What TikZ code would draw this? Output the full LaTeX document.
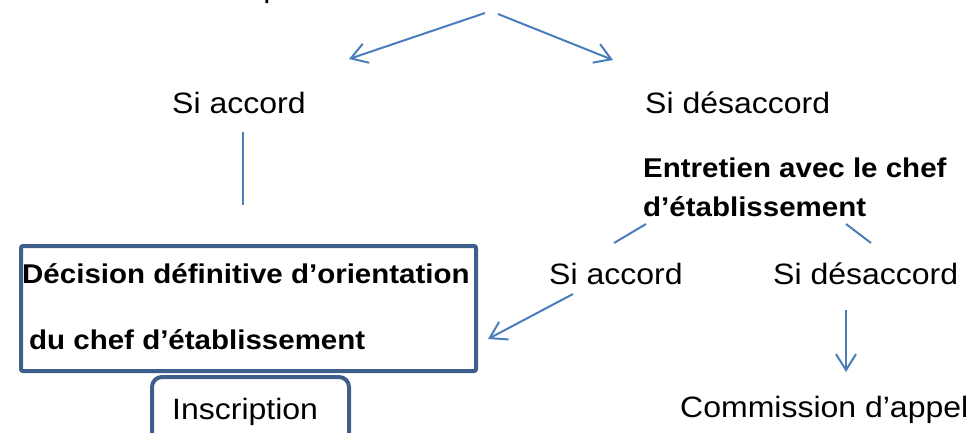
\documentclass[tikz,border=0pt]{standalone}
\usepackage{fontspec}
\setmainfont{Liberation Sans}
\usetikzlibrary{arrows.meta}
\definecolor{arrowblue}{HTML}{4A7EBB}
\definecolor{boxblue}{HTML}{3E5E8C}
\begin{document}
\begin{tikzpicture}[x=1pt,y=1pt,
  reg/.style={font=\fontsize{32}{38}\selectfont, inner sep=0pt, anchor=base west, yscale=0.92, transform shape},
  bld/.style={reg, font=\fontsize{29.5}{36}\selectfont\bfseries},
  conn/.style={draw=arrowblue, line width=2pt},
  arr/.style={conn, -{Straight Barb[length=16pt,width=20pt,line width=2pt]}},
  frame/.style={draw=boxblue, line width=4pt, anchor=north west, inner sep=0pt}]
\useasboundingbox (0,0) rectangle (970,-432);
\clip (0,0) rectangle (970,-432);

% cut-off heading
\node[reg] (head) at (80,3) {Décision lue par la famille};
\coordinate (h1) at (485,-13);
\coordinate (h2) at (498,-14);

% first level
\node[reg] (a1) at (172,-113) {Si accord};
\node[reg] (d1) at (645,-113) {Si désaccord};
\coordinate (a1in) at (349,-59);
\coordinate (d1in) at (613,-60);
\draw[arr] (h1) -- (a1in);
\draw[arr] (h2) -- (d1in);

\coordinate (a1out) at (243,-132);
\coordinate (a1down) at (243,-205);
\draw[conn] (a1out) -- (a1down);

% interview
\node[bld] (e1) at (643,-177) {Entretien avec le chef};
\node[bld] (e2) at (643,-216) {d’établissement};
\coordinate (e2l) at (646,-224);
\coordinate (e2r) at (846,-224);
\coordinate (a2top) at (614,-243);
\coordinate (d2top) at (871,-243);
\draw[conn] (e2l) -- (a2top);
\draw[conn] (e2r) -- (d2top);

% second level
\node[reg] (a2) at (549,-284) {Si accord};
\node[reg] (d2) at (773,-284) {Si désaccord};
\node[reg] (comm) at (680,-417) {Commission d’appel};

% decision box
\node[frame, rounded corners=2pt, minimum width=455pt, minimum height=125pt] (box) at (19,-244) {};
\node[bld] (dec1) at (22,-283) {Décision définitive d’orientation};
\node[bld] (dec2) at (29,-349) {du chef d’établissement};

% inscription box
\node[frame, rounded corners=10pt, minimum width=197pt, minimum height=80pt] (insbox) at (150,-375) {};
\node[reg] (ins) at (172,-419) {Inscription};

\coordinate (a2out) at (573,-294);
\coordinate (boxin) at (488,-339);
\draw[arr] (a2out) -- (boxin);

\coordinate (d2out) at (846,-310);
\coordinate (commin) at (846,-372);
\draw[arr] (d2out) -- (commin);
\end{tikzpicture}
\end{document}
